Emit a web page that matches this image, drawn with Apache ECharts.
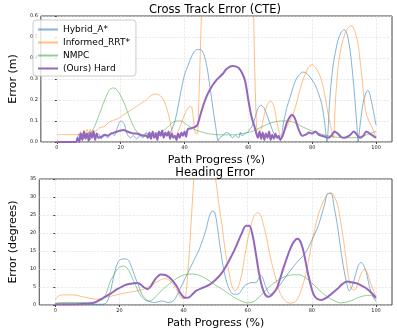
<!DOCTYPE html>
<html>
<head>
<meta charset="utf-8">
<title>CTE and Heading Error</title>
<script src="https://cdn.jsdelivr.net/npm/echarts@6/dist/echarts.min.js"></script>
<style>
  html, body { margin: 0; padding: 0; background: #fff; }
  #chart { width: 397px; height: 331px; }
</style>
</head>
<body>
<div id="chart"></div>
<script>
// Series names, as shown in the legend.
var seriesNames = ['Hybrid_A*', 'Informed_RRT*', 'NMPC', '(Ours) Hard'];
var xTicks = [0, 20, 40, 60, 80, 100];

// Cross track error (m), [path progress %, error].
var cteHybrid = [
    [6.5, 0.02], [7, 0.04], [7.5, 0.01], [8, 0.035], [8.5, 0.015], [9, 0.04], [9.5, 0.02], [10, 0.045],
    [10.5, 0.01], [11, 0.03], [12, 0.02], [13, 0.04], [14, 0.015], [15, 0.03], [16, 0.02], [17, 0.045],
    [18, 0.03], [19, 0.07], [20, 0.1], [21, 0.09], [22, 0.04], [23, 0.02], [24, 0.03], [25, 0.015],
    [26, 0.03], [27, 0.02], [28, 0.045], [29, 0.02], [30, 0.04], [31, 0.02], [32, 0.05], [33, 0.03],
    [34, 0.04], [35, 0.03], [36, 0.06], [37, 0.1], [38, 0.17], [39, 0.25], [40, 0.32], [41, 0.36],
    [42, 0.4], [43, 0.43], [44, 0.44], [45, 0.44], [46, 0.42], [47, 0.36], [48, 0.26], [49, 0.15],
    [50, 0.05], [50.5, 0.005], [51, 0.02], [52, 0.03], [53, 0.045], [54, 0.04], [55, 0.02], [56, 0.03],
    [57, 0.02], [57.5, 0.046], [58, 0.03], [59, 0.04], [60, 0.05], [60.5, 0.062], [61, 0.07], [62, 0.11],
    [63, 0.16], [64, 0.175], [65, 0.16], [66, 0.12], [67, 0.08], [68, 0.04], [69, 0.02], [70, 0.01],
    [71, 0.09], [72, 0.16], [73, 0.21], [74, 0.26], [75, 0.3], [76, 0.32], [77, 0.333], [78, 0.33],
    [79, 0.315], [80, 0.295], [81, 0.27], [82, 0.23], [83, 0.18], [84, 0.08], [84.6, 0.0], [85.5, 0.2],
    [86.5, 0.36], [88, 0.48], [89, 0.52], [90, 0.535], [91, 0.51], [92, 0.42], [93, 0.27], [94, 0.08],
    [94.4, 0.0], [95, 0.08], [96, 0.19], [97, 0.24], [97.5, 0.245], [98, 0.23], [99, 0.16], [100, 0.08]
];
var cteRrt = [
    [0, 0.035], [2, 0.035], [4, 0.035], [6, 0.035], [7, 0.035], [7.5, 0.05], [8, 0.03], [8.5, 0.055],
    [9, 0.04], [9.5, 0.06], [10, 0.045], [10.5, 0.06], [11, 0.04], [11.5, 0.055], [12, 0.05], [13, 0.065],
    [14, 0.07], [15, 0.075], [16, 0.09], [17, 0.1], [18, 0.105], [19, 0.11], [20, 0.12], [21, 0.13],
    [22, 0.14], [23, 0.15], [24, 0.16], [25, 0.17], [26, 0.18], [27, 0.19], [28, 0.2], [29, 0.215],
    [30, 0.225], [31, 0.228], [32, 0.225], [33, 0.21], [34, 0.18], [35, 0.13], [36, 0.06], [36.5, 0.03],
    [37, 0.02], [38, 0.05], [39, 0.09], [40, 0.13], [41, 0.16], [42, 0.17], [42.5, 0.15], [43, 0.08],
    [43.5, 0.04], [44, 0.04], [44.5, 0.2], [45, 0.45], [45.5, 0.7], [46, 0.9], [54, 0.95], [61, 0.9],
    [61.5, 0.7], [62, 0.35], [62.5, 0.1], [63, 0.02], [64, 0.06], [65, 0.13], [66, 0.18], [67, 0.195],
    [68, 0.17], [69, 0.09], [70, 0.03], [70.6, 0.02], [71, 0.04], [72, 0.07], [73, 0.1], [74, 0.133],
    [75, 0.18], [76, 0.24], [77, 0.29], [78, 0.33], [79, 0.36], [80, 0.368], [81, 0.355], [82, 0.33],
    [83, 0.29], [84, 0.22], [85, 0.133], [86, 0.06], [86.6, 0.02], [87.3, 0.2], [88.2, 0.37], [89.2, 0.46],
    [90.2, 0.514], [91.3, 0.545], [92.4, 0.554], [93.3, 0.53], [94.2, 0.48], [95, 0.39], [95.7, 0.29],
    [96.7, 0.15], [97.5, 0.11], [98.2, 0.086], [99, 0.06], [100, 0.02]
];
var cteNmpc = [
    [7, 0.02], [8, 0.03], [9, 0.025], [10, 0.03], [11, 0.05], [12, 0.08], [13, 0.12], [14, 0.16],
    [15, 0.2], [16, 0.235], [17, 0.255], [18, 0.257], [19, 0.245], [20, 0.22], [21, 0.19], [22, 0.15],
    [23, 0.11], [24, 0.075], [25, 0.05], [26, 0.04], [27, 0.035], [28, 0.04], [29, 0.035], [30, 0.04],
    [31, 0.045], [32, 0.04], [33, 0.05], [34, 0.06], [35, 0.075], [36, 0.09], [37, 0.098], [38, 0.1],
    [39, 0.1], [40, 0.09], [41, 0.08], [42, 0.07], [43, 0.06], [44, 0.054], [46, 0.045], [48, 0.038],
    [50, 0.035], [52, 0.034], [54, 0.034], [56, 0.035], [58, 0.04], [60, 0.045], [62, 0.055], [64, 0.07],
    [66, 0.085], [68, 0.095], [70, 0.1], [72, 0.1], [74, 0.095], [76, 0.08], [78, 0.065], [80, 0.052],
    [82, 0.042], [84, 0.033], [86, 0.026], [88, 0.022], [90, 0.02], [92, 0.02], [94, 0.022], [96, 0.028],
    [98, 0.04], [100, 0.05]
];
var cteOurs = [
    [0, 0], [2, 0], [4, 0], [6, 0], [6.5, 0.02], [7, 0.0], [7.5, 0.04], [8, 0.01], [8.5, 0.05],
    [9, 0.015], [9.5, 0.04], [10, 0.005], [10.5, 0.045], [11, 0.02], [11.5, 0.05], [12, 0.01], [12.5, 0.04],
    [13, 0.02], [14, 0.025], [15, 0.035], [16, 0.03], [17, 0.04], [18, 0.045], [19, 0.05], [20, 0.055],
    [21, 0.057], [22, 0.05], [23, 0.045], [24, 0.04], [25, 0.04], [26, 0.035], [27, 0.03], [28, 0.03],
    [28.5, 0.02], [29, 0.045], [29.5, 0.015], [30, 0.05], [30.5, 0.02], [31, 0.04], [31.5, 0.01], [32, 0.05],
    [32.5, 0.03], [33, 0.055], [33.5, 0.02], [34, 0.045], [34.5, 0.03], [35, 0.05], [35.5, 0.015], [36, 0.04],
    [36.5, 0.02], [37, 0.03], [37.5, 0.01], [38, 0.04], [38.5, 0.02], [39, 0.045], [39.5, 0.03], [40, 0.05],
    [40.5, 0.025], [41, 0.06], [42, 0.065], [43, 0.07], [44, 0.08], [45, 0.13], [46, 0.18], [47, 0.22],
    [48, 0.25], [49, 0.275], [50, 0.295], [51, 0.31], [52, 0.325], [53, 0.345], [54, 0.357], [55, 0.362],
    [56, 0.36], [57, 0.352], [58, 0.33], [59, 0.29], [60, 0.2], [61, 0.12], [62, 0.07], [62.5, 0.04],
    [63, 0.02], [63.5, 0.05], [64, 0.015], [64.5, 0.045], [65, 0.01], [65.5, 0.04], [66, 0.02], [66.5, 0.05],
    [67, 0.01], [67.5, 0.035], [68, 0.015], [68.5, 0.04], [69, 0.02], [69.5, 0.03], [70, 0.01], [71, 0.04],
    [72, 0.09], [73, 0.12], [73.6, 0.13], [74.5, 0.115], [75.6, 0.066], [76.5, 0.035], [77, 0.03], [78, 0.035],
    [79, 0.045], [80, 0.04], [81, 0.05], [82, 0.035], [83, 0.03], [84, 0.025], [85, 0.02], [86, 0.03],
    [87, 0.05], [88, 0.04], [89, 0.025], [90, 0.02], [91, 0.025], [92, 0.035], [93, 0.05], [94, 0.035],
    [95, 0.02], [96, 0.03], [97, 0.05], [98, 0.04], [99, 0.03], [100, 0.02]
];

// Heading error (degrees), lower panel.
var headHybrid = [
    [0, 0.2], [5, 0.2], [10, 0.2], [14, 0.2], [15.5, 0.3], [16.5, 1.5], [17.5, 5], [18.5, 9], [19.5, 11.8],
    [20.5, 12.7], [22, 12.8], [23, 12.2], [24, 10], [25, 7.5], [26, 5.3], [27, 3], [28, 1.8], [29, 1.1],
    [30, 0.8], [31, 0.7], [32, 0.9], [33, 1.1], [34, 1.0], [35, 0.7], [36, 0.8], [37, 1.3], [38, 2.8],
    [39, 4.6], [40, 6.5], [41, 8.3], [43, 12], [45, 15.7], [47, 21], [48, 24.5], [49, 26.1], [49.7, 25.8],
    [50.5, 22], [51.5, 15.5], [52.5, 10], [53.5, 6.2], [54.5, 4], [55.5, 3], [57, 3], [58, 4], [59, 5.3],
    [60, 5.9], [61, 6.2], [62.5, 6.2], [63.5, 7.5], [64, 8.3], [64.7, 7.5], [65.5, 5.3], [66.5, 3.3], [67, 3],
    [68, 3.4], [70, 5.5], [72, 8], [75, 11.5], [78, 14.5], [80, 18], [82, 22], [84, 28], [85, 31], [86, 31],
    [87, 27], [88, 22], [89, 15.5], [90, 9.9], [91, 5.5], [91.7, 3.9], [92.5, 5], [93.5, 8], [94.5, 11],
    [95.4, 11.8], [96.2, 11], [97, 9], [98, 5], [99, 2.5], [100, 1.0]
];
var headRrt = [
    [0, 1.4], [1, 2.5], [2, 2.8], [4, 2.8], [6, 2.8], [8, 2.4], [10, 2], [12, 1.7], [13, 1.6], [16, 2.2],
    [20, 3], [24, 3.7], [27, 4.2], [30, 5.5], [32, 6.6], [34, 7.3], [35, 7.2], [36, 6.5], [37, 5.6],
    [38, 4], [39.5, 1.8], [40.5, 2], [41.5, 11], [42.5, 25], [43.5, 38], [45, 45], [47, 45], [49, 40],
    [50, 35], [51, 28], [52, 22], [53, 15], [54, 9.9], [55, 5.5], [56, 3.9], [57, 5], [58, 8], [59, 13],
    [60, 18.2], [61, 22], [62, 24.8], [63, 25.6], [64, 25], [65, 22], [66, 18.2], [67, 13.5], [68, 9.9],
    [69, 6.5], [70, 3.5], [71, 1.8], [72, 0.9], [73, 0.5], [74, 0.6], [75, 1], [76, 2.5], [77, 5], [78, 8],
    [79, 12.5], [80, 17.3], [81, 21.5], [82, 25], [83, 27.5], [84, 29.5], [85, 30.8], [86, 31.2], [87, 30],
    [88, 28], [89, 23], [90, 17.3], [91, 10.5], [92, 5.3], [93, 4.2], [93.7, 4.4], [94.7, 7], [95.5, 9],
    [96.5, 9.9], [97.3, 9], [98, 7], [99, 4.5], [100, 2.5]
];
var headNmpc = [
    [0, 0.5], [2, 0.7], [4, 0.7], [6, 0.7], [8, 0.7], [10, 0.7], [12, 0.8], [13, 1.0], [14, 1.3], [15, 1.6],
    [16, 3.5], [17, 6.2], [18, 8], [19, 9.5], [20, 10.5], [21, 10.8], [22, 10.6], [23, 9.5], [24, 7.5],
    [25, 5.6], [26, 3.5], [27, 2.2], [28, 1.4], [29, 1.1], [30, 1.3], [31, 2], [32, 3], [34, 4.7], [36, 6.2],
    [38, 7.5], [40, 8.3], [42, 8.6], [44, 8.5], [46, 7.8], [48, 6.7], [50, 5.5], [52, 4.4], [54, 3.2],
    [56, 2], [58, 1.1], [60, 0.6], [62, 1], [64, 2.6], [66, 4.4], [68, 6], [70, 7.2], [72, 8], [74, 8.4],
    [76, 8.4], [78, 7.6], [80, 6.1], [82, 4.4], [84, 2.8], [86, 1.6], [88, 0.8], [89, 0.6], [90, 0.7],
    [92, 1.1], [94, 1.9], [96, 2.5], [98, 2.7], [99, 2.4], [100, 1.6]
];
var headOurs = [
    [0, 0.2], [4, 0.2], [8, 0.3], [12, 0.6], [15, 2], [17, 3], [19.3, 4.4], [21, 5.2], [22.3, 5.7], [24, 6],
    [25.3, 6.1], [26.5, 5.8], [27.5, 5], [28.8, 4.4], [29.8, 5.2], [30.8, 6.7], [31.8, 7.8], [32.8, 8.5],
    [34, 8.4], [35, 8], [36, 7.3], [37, 6.3], [38, 5], [39, 3.3], [40, 2.2], [41, 2], [42, 2.3], [43, 3.2],
    [44, 4], [46, 4.8], [48, 5.6], [50, 7], [52, 9], [54, 12], [56, 15.5], [58, 19.6], [59.5, 22], [60.5, 22],
    [61.5, 19.5], [62.5, 14.5], [63.5, 9], [64.5, 5], [65.5, 2.8], [66.5, 2.3], [67.5, 2.8], [69, 4.5],
    [70, 7], [71, 9.9], [72, 12.5], [73, 15], [74, 17], [75, 18.2], [75.6, 18.4], [76.5, 17.5], [77.5, 14.5],
    [78.5, 10], [79.5, 6], [80.5, 3], [81.5, 1.8], [83, 1.4], [84.5, 2], [86, 3], [88, 4.5], [89.5, 5.8],
    [91, 6.5], [92.5, 6.3], [94, 6], [95.5, 5.4], [96.7, 4.8], [98, 3.9], [99, 3], [100, 2]
];

var FONT = 'DejaVu Sans, sans-serif';
var colors = ['rgba(31,119,180,0.55)', 'rgba(255,127,14,0.5)', 'rgba(44,160,44,0.5)', '#9467bd'];
var widths = [1, 1, 1, 2];

function xAxisFor(gridIndex) {
    return {
        type: 'value', gridIndex: gridIndex, min: -5, max: 105,
        name: 'Path Progress (%)', nameLocation: 'middle', nameGap: 13,
        nameTextStyle: { fontFamily: FONT, fontSize: 11, color: '#000' },
        axisLine: { show: false },
        axisTick: { show: true, length: 2, customValues: xTicks, lineStyle: { color: '#444' } },
        axisLabel: { customValues: xTicks, fontFamily: FONT, fontSize: 5, color: '#222', margin: 3 },
        splitLine: { show: true, lineStyle: { color: '#ddd', type: 'dashed', width: 0.6 } }
    };
}

function yAxisFor(gridIndex, max, interval, name, digits) {
    return {
        type: 'value', gridIndex: gridIndex, min: 0, max: max, interval: interval,
        name: name, nameLocation: 'middle', nameGap: 16,
        nameTextStyle: { fontFamily: FONT, fontSize: 11, color: '#000' },
        axisLine: { show: false },
        axisTick: { show: true, length: 2, lineStyle: { color: '#444' } },
        axisLabel: {
            fontFamily: FONT, fontSize: 5, color: '#222', margin: 3,
            formatter: function (v) { return v.toFixed(digits); }
        },
        splitLine: { show: true, lineStyle: { color: '#ddd', type: 'dashed', width: 0.6 } }
    };
}

function lineSeries(i, gridIndex, data) {
    return {
        name: seriesNames[i], type: 'line',
        xAxisIndex: gridIndex, yAxisIndex: gridIndex,
        data: data, symbol: 'none', smooth: 0.3, clip: true,
        lineStyle: { color: colors[i], width: widths[i] },
        itemStyle: { color: colors[i] },
        z: i === 3 ? 5 : 2
    };
}

var chart = echarts.init(document.getElementById('chart'), null, { renderer: 'canvas' });
chart.setOption({
    animation: false,
    title: [
        { text: 'Cross Track Error (CTE)', left: 210, top: -1, textAlign: 'center',
          textStyle: { fontFamily: FONT, fontSize: 11.5, fontWeight: 'normal', color: '#000' } },
        { text: 'Heading Error', left: 210, top: 162, textAlign: 'center',
          textStyle: { fontFamily: FONT, fontSize: 11.5, fontWeight: 'normal', color: '#000' } }
    ],
    legend: {
        data: seriesNames, orient: 'vertical', left: 33, top: 20,
        itemWidth: 20, itemHeight: 8, itemGap: 4,
        padding: [5, 6, 3, 4],
        itemStyle: { opacity: 0 },
        borderColor: '#ccc', borderWidth: 1, borderRadius: 3,
        backgroundColor: 'rgba(255,255,255,0.8)',
        textStyle: { fontFamily: FONT, fontSize: 9, color: '#000' }
    },
    grid: [
        { left: 29, right: 5, top: 16, height: 126, show: true, borderColor: '#444', borderWidth: 1, backgroundColor: 'transparent' },
        { left: 29, right: 5, top: 179, height: 126, show: true, borderColor: '#444', borderWidth: 1, backgroundColor: 'transparent' }
    ],
    xAxis: [xAxisFor(0), xAxisFor(1)],
    yAxis: [
        yAxisFor(0, 0.6, 0.1, 'Error (m)', 1),
        yAxisFor(1, 35, 5, 'Error (degrees)', 0)
    ],
    series: [
        lineSeries(0, 0, cteHybrid), lineSeries(1, 0, cteRrt), lineSeries(2, 0, cteNmpc), lineSeries(3, 0, cteOurs),
        lineSeries(0, 1, headHybrid), lineSeries(1, 1, headRrt), lineSeries(2, 1, headNmpc), lineSeries(3, 1, headOurs)
    ]
});
</script>
</body>
</html>
